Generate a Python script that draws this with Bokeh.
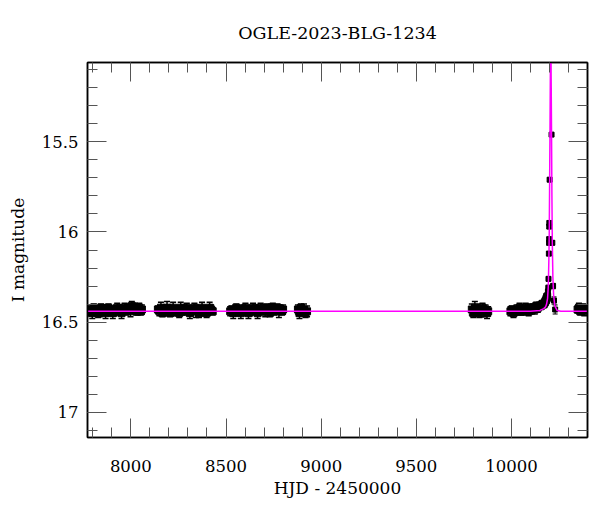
from bokeh.plotting import figure
from bokeh.models import Range1d, FixedTicker, LinearAxis, CustomJSTickFormatter, ColumnDataSource
from bokeh.embed import file_html
from bokeh.resources import INLINE

# ---------------- data ----------------
title_text = "OGLE-2023-BLG-1234"
x_label = "HJD - 2450000"
y_label = "I magnitude"

x_major = [8000, 8500, 9000, 9500, 10000]
x_minor = list(range(7800, 10401, 100))
y_major = [15.5, 16.0, 16.5, 17.0]
y_minor = [15.1, 15.2, 15.3, 15.4, 15.5, 15.6, 15.7, 15.8, 15.9, 16.0, 16.1, 16.2,
           16.3, 16.4, 16.5, 16.6, 16.7, 16.8, 16.9, 17.0, 17.1]

s1_x = [7782, 7790, 7797, 7805, 7812, 7820, 7828, 7836, 7843, 7851, 7859, 7867, 7874,
        7882, 7890, 7897, 7905, 7913, 7921, 7928, 7936, 7944, 7951, 7959, 7967, 7975,
        7982, 7990, 7998, 8005, 8013, 8021, 8029, 8036, 8044, 8052, 8058]
s1_m = [16.44, 16.43, 16.45, 16.42, 16.44, 16.43, 16.45, 16.44, 16.42, 16.43, 16.44, 16.45,
        16.43, 16.42, 16.44, 16.43, 16.45, 16.44, 16.43, 16.42, 16.44, 16.43, 16.45, 16.43,
        16.42, 16.44, 16.43, 16.42, 16.44, 16.41, 16.43, 16.42, 16.44, 16.43, 16.42, 16.44, 16.43]
s1_e = [0.025, 0.02, 0.03, 0.02, 0.025, 0.02, 0.025, 0.03, 0.02, 0.025, 0.02, 0.03, 0.025,
        0.02, 0.025, 0.02, 0.03, 0.025, 0.02, 0.025, 0.02, 0.025, 0.03, 0.02, 0.025, 0.02,
        0.025, 0.02, 0.03, 0.025, 0.02, 0.025, 0.02, 0.03, 0.025, 0.02, 0.025]

s2_x = [8142, 8150, 8158, 8166, 8174, 8182, 8190, 8198, 8206, 8214, 8222, 8230, 8238,
        8246, 8254, 8262, 8270, 8278, 8286, 8294, 8302, 8310, 8318, 8326, 8334, 8342,
        8350, 8358, 8366, 8374, 8382, 8390, 8398, 8406, 8414, 8422, 8430]
s2_m = [16.43, 16.44, 16.42, 16.45, 16.43, 16.44, 16.42, 16.43, 16.45, 16.44, 16.42, 16.43,
        16.44, 16.43, 16.45, 16.42, 16.44, 16.43, 16.44, 16.42, 16.43, 16.45, 16.44, 16.43,
        16.42, 16.44, 16.43, 16.45, 16.43, 16.42, 16.44, 16.43, 16.45, 16.44, 16.42, 16.43, 16.44]
s2_e = [0.02, 0.025, 0.03, 0.02, 0.025, 0.02, 0.035, 0.025, 0.02, 0.025, 0.03, 0.02, 0.025,
        0.02, 0.025, 0.03, 0.02, 0.025, 0.02, 0.025, 0.02, 0.03, 0.025, 0.02, 0.025, 0.035,
        0.02, 0.025, 0.02, 0.03, 0.025, 0.02, 0.025, 0.02, 0.03, 0.025, 0.02]

s3_x = [8522, 8530, 8538, 8546, 8554, 8562, 8570, 8578, 8586, 8594, 8602, 8610, 8618,
        8626, 8634, 8642, 8650, 8658, 8666, 8674, 8682, 8690, 8698, 8706, 8714, 8722,
        8730, 8738, 8746, 8754, 8762, 8770, 8778, 8786, 8794, 8800]
s3_m = [16.44, 16.43, 16.45, 16.44, 16.42, 16.44, 16.43, 16.45, 16.43, 16.44, 16.42, 16.43,
        16.45, 16.44, 16.43, 16.42, 16.44, 16.43, 16.45, 16.43, 16.42, 16.44, 16.43, 16.44,
        16.42, 16.43, 16.45, 16.43, 16.42, 16.44, 16.43, 16.42, 16.44, 16.43, 16.44, 16.43]
s3_e = [0.025, 0.02, 0.03, 0.025, 0.02, 0.025, 0.02, 0.03, 0.025, 0.02, 0.025, 0.02,
        0.03, 0.025, 0.02, 0.025, 0.02, 0.025, 0.03, 0.02, 0.025, 0.02, 0.025, 0.03,
        0.02, 0.025, 0.02, 0.03, 0.025, 0.02, 0.025, 0.02, 0.035, 0.025, 0.02, 0.025]

s4_x = [8878, 8886, 8894, 8902, 8910, 8918, 8926]
s4_m = [16.43, 16.45, 16.42, 16.44, 16.43, 16.45, 16.44]
s4_e = [0.025, 0.03, 0.02, 0.025, 0.03, 0.025, 0.03]

s5_x = [9792, 9800, 9808, 9816, 9824, 9832, 9840, 9848, 9856, 9864, 9872, 9878]
s5_m = [16.43, 16.45, 16.42, 16.44, 16.43, 16.45, 16.44, 16.42, 16.44, 16.43, 16.45, 16.44]
s5_e = [0.03, 0.025, 0.035, 0.025, 0.03, 0.025, 0.03, 0.025, 0.03, 0.025, 0.03, 0.025]

s6_x = [9995, 10003, 10011, 10019, 10027, 10035, 10043, 10051, 10059, 10067, 10075, 10083,
        10091, 10099, 10107, 10115, 10123, 10131, 10139, 10147, 10155, 10163, 10170, 10176,
        10181, 10185, 10188]
s6_m = [16.44, 16.43, 16.45, 16.44, 16.43, 16.44, 16.42, 16.44, 16.43, 16.44, 16.42, 16.43,
        16.44, 16.42, 16.43, 16.42, 16.43, 16.41, 16.42, 16.41, 16.41, 16.40, 16.40, 16.39,
        16.38, 16.37, 16.36]
s6_e = [0.025, 0.02, 0.025, 0.02, 0.025, 0.02, 0.025, 0.02, 0.025, 0.02, 0.025, 0.02,
        0.025, 0.02, 0.025, 0.02, 0.025, 0.02, 0.025, 0.02, 0.02, 0.02, 0.02, 0.02,
        0.02, 0.02, 0.02]

ev_x = [10190, 10192, 10194, 10195, 10197, 10198, 10198.5, 10199, 10199.5, 10201,
        10211, 10215, 10219, 10224, 10230]
ev_m = [16.35, 16.33, 16.31, 16.26, 16.12, 16.06, 16.04, 15.97, 15.95, 15.71,
        15.46, 16.06, 16.30, 16.38, 16.43]
ev_e = [0.015, 0.012, 0.015, 0.012, 0.012, 0.012, 0.012, 0.012, 0.012, 0.01,
        0.01, 0.012, 0.015, 0.02, 0.025]

s8_x = [10348, 10355, 10362, 10369, 10376, 10383, 10390]
s8_m = [16.43, 16.42, 16.44, 16.43, 16.42, 16.44, 16.43]
s8_e = [0.02, 0.025, 0.02, 0.025, 0.02, 0.025, 0.02]

model_x = [7772, 10100, 10150, 10170, 10180, 10185, 10190, 10194, 10197, 10199, 10201,
           10203, 10205, 10207, 10209, 10211, 10213, 10215, 10218, 10222, 10228, 10240,
           10260, 10400]
model_m = [16.44, 16.44, 16.435, 16.425, 16.415, 16.40, 16.37, 16.30, 16.15, 16.00, 15.72,
           15.42, 15.08, 14.85, 15.15, 15.46, 15.80, 16.05, 16.25, 16.35, 16.41, 16.435,
           16.44, 16.44]

# ---------------- build ----------------
def make_src(x, m, e):
    return ColumnDataSource(dict(x=x, m=m,
                                 lo=[a + b for a, b in zip(m, e)],
                                 hi=[a - b for a, b in zip(m, e)]))

base_src = make_src(s1_x + s2_x + s3_x + s4_x + s5_x + s6_x + s8_x,
                    s1_m + s2_m + s3_m + s4_m + s5_m + s6_m + s8_m,
                    s1_e + s2_e + s3_e + s4_e + s5_e + s6_e + s8_e)
ev_src = make_src(ev_x, ev_m, ev_e)

FONT = "DejaVu Serif"

p = figure(width=592, height=504, output_backend="svg", toolbar_location=None,
           x_range=Range1d(7772, 10400), y_range=Range1d(17.14, 15.06),
           min_border_left=87, min_border_right=5, min_border_top=62, min_border_bottom=67,
           title=title_text)
p.grid.visible = False
p.background_fill_color = "white"
p.border_fill_color = "white"
p.outline_line_color = "black"
p.outline_line_width = 1.5

p.title.align = "center"
p.title.text_font = FONT
p.title.text_font_style = "normal"
p.title.text_font_size = "17.5px"
p.title.text_color = "black"
p.title.standoff = 39

def style_axis(ax, labels=True):
    ax.major_tick_in = 19
    ax.major_tick_out = 0
    ax.minor_tick_in = 10
    ax.minor_tick_out = 0
    ax.major_tick_line_color = "#555555"
    ax.minor_tick_line_color = "#555555"
    ax.axis_line_color = "black"
    ax.axis_line_width = 1.5
    if labels:
        ax.major_label_text_font = FONT
        ax.major_label_text_font_size = "16.5px"
        ax.major_label_text_color = "black"
        ax.axis_label_text_font = FONT
        ax.axis_label_text_font_size = "17px"
        ax.axis_label_text_font_style = "normal"
        ax.axis_label_text_color = "black"
    else:
        ax.formatter = CustomJSTickFormatter(code="return ''")
        ax.major_label_text_font_size = "0px"
        ax.major_label_standoff = 0

xa = p.xaxis[0]
xa.ticker = FixedTicker(ticks=x_major, minor_ticks=x_minor)
xa.axis_label = x_label
style_axis(xa)
xa.major_label_standoff = 22
xa.axis_label_standoff = 3

ya = p.yaxis[0]
ya.ticker = FixedTicker(ticks=y_major, minor_ticks=y_minor)
ya.formatter = CustomJSTickFormatter(code="return String(tick)")
ya.axis_label = y_label
style_axis(ya)
ya.major_label_standoff = 9
ya.axis_label_standoff = 11

top_ax = LinearAxis(ticker=FixedTicker(ticks=x_major, minor_ticks=x_minor))
style_axis(top_ax, labels=False)
p.add_layout(top_ax, "above")
right_ax = LinearAxis(ticker=FixedTicker(ticks=y_major, minor_ticks=y_minor))
style_axis(right_ax, labels=False)
p.add_layout(right_ax, "right")

# error bars, caps, points: baseline seasons
p.segment(x0="x", y0="lo", x1="x", y1="hi", source=base_src, line_color="black", line_width=1.5)
p.scatter(x="x", y="lo", source=base_src, marker="dash", size=6, line_color="black", line_width=1.5)
p.scatter(x="x", y="hi", source=base_src, marker="dash", size=6, line_color="black", line_width=1.5)
p.scatter(x="x", y="m", source=base_src, marker="square", size=7, fill_color="black", line_color="black")

# event points (smaller)
p.segment(x0="x", y0="lo", x1="x", y1="hi", source=ev_src, line_color="black", line_width=1)
p.scatter(x="x", y="lo", source=ev_src, marker="dash", size=5, line_color="black", line_width=1)
p.scatter(x="x", y="hi", source=ev_src, marker="dash", size=5, line_color="black", line_width=1)
p.scatter(x="x", y="m", source=ev_src, marker="square", size=5, fill_color="black", line_color="black")

# model
p.line(model_x, model_m, line_color="#ff00ff", line_width=1.5)

open("out.html", "w").write(file_html(p, INLINE))
